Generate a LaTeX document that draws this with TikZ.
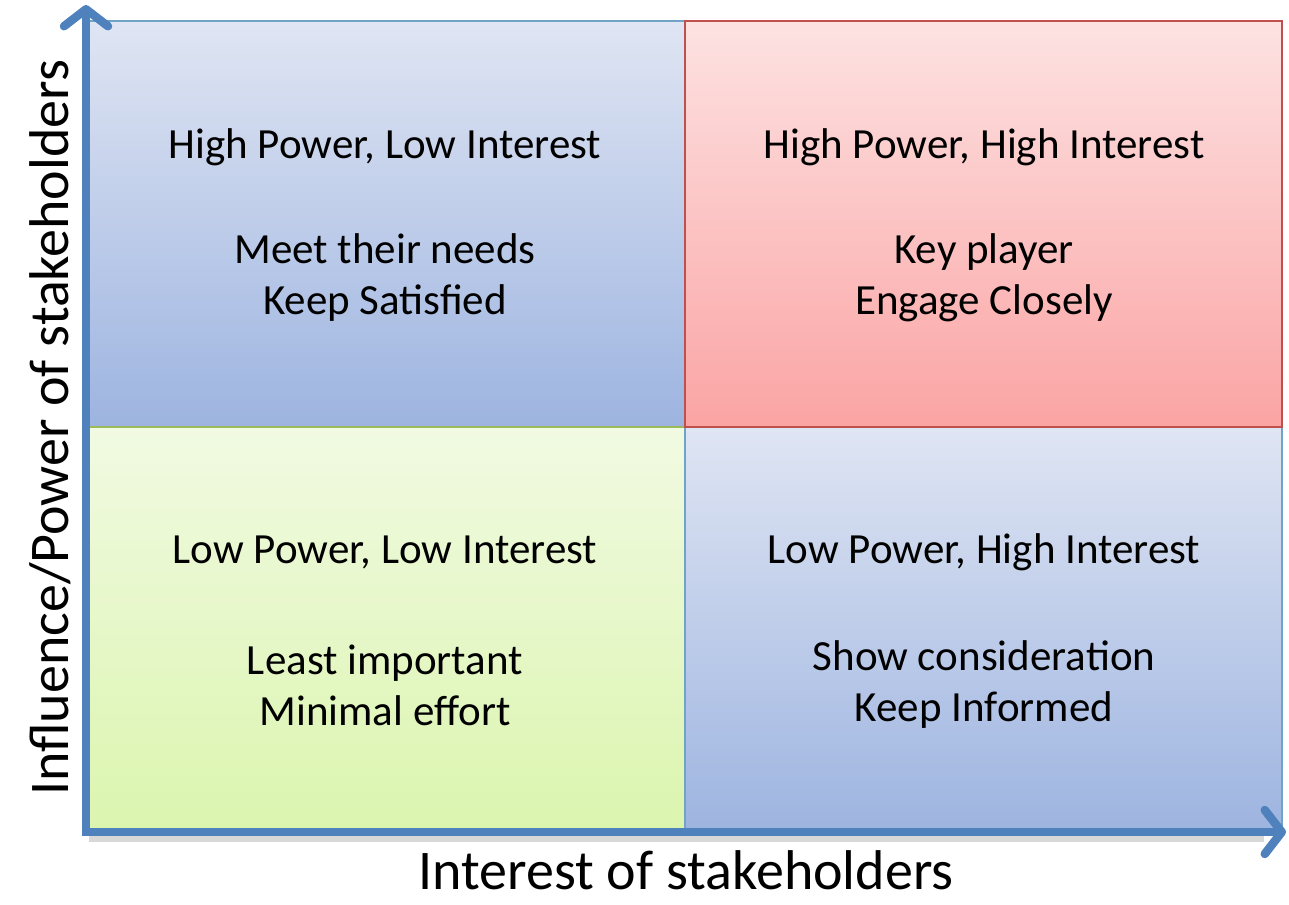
\documentclass[tikz,border=0pt]{standalone}
\usepackage{fontspec}
\setmainfont{Carlito}
\usetikzlibrary{arrows.meta}
\definecolor{axisblue}{HTML}{4F81BD}
\definecolor{blueedge}{HTML}{6FA3C8}
\definecolor{rededge}{HTML}{C0504D}
\definecolor{greenedge}{HTML}{9BBB59}
\definecolor{bluetop}{HTML}{DFE5F3}
\definecolor{bluebot}{HTML}{9DB4E0}
\definecolor{redtop}{HTML}{FDE2E2}
\definecolor{redbot}{HTML}{FBA4A4}
\definecolor{greentop}{HTML}{F1FAE2}
\definecolor{greenbot}{HTML}{DBF5AE}
\begin{document}
\begin{tikzpicture}[x=1pt, y=-1pt,
    quad/.style={draw, line width=1.2pt, minimum width=597pt, minimum height=406pt,
      anchor=north west, inner sep=0pt, outer sep=0pt},
    bluequad/.style={quad, draw=blueedge, top color=bluetop, bottom color=bluebot},
    txt/.style={font=\fontsize{43}{51}\selectfont, align=center},
    axlabel/.style={font=\fontsize{56}{60}\selectfont, inner sep=0pt},
    axis/.style={draw=axisblue, line width=8.5pt, line join=miter,
      {Straight Barb[length=17pt,width=44pt,round]}-{Straight Barb[length=17pt,width=44pt,round]}}]
  \useasboundingbox (0,0) rectangle (1289,904);
  % quadrants
  \node[bluequad] (tl) at (88,21) {};
  \node[quad, draw=greenedge, top color=greentop, bottom color=greenbot] (bl) at (88,427) {};
  \node[bluequad] (br) at (685,427) {};
  \node[quad, draw=rededge, top color=redtop, bottom color=redbot] (tr) at (685,21) {};
  % texts
  \node[txt] (tlhead) at (385,147) {High Power, Low Interest};
  \node[txt] (tlbody) at (385,278) {Meet their needs\\Keep Satisfied};
  \node[txt] (trhead) at (984,147) {High Power, High Interest};
  \node[txt] (trbody) at (984,278) {Key player\\Engage Closely};
  \node[txt] (blhead) at (385,552) {Low Power, Low Interest};
  \node[txt] (blbody) at (385,685) {Least important\\Minimal effort};
  \node[txt] (brhead) at (984,552) {Low Power, High Interest};
  \node[txt] (brbody) at (984,685) {Show consideration\\Keep Informed};
  % axes
  \coordinate (origin) at (86,832);
  \coordinate (ytip) at (86,5);
  \coordinate (xtip) at (1286,832);
  \draw[line width=8pt, black!30, opacity=0.5] ([shift={(3,6)}]origin) -- ([shift={(-22,6)}]xtip);
  \draw[axis] (ytip) -- (origin) -- (xtip);
  \node[axlabel, rotate=90] (ylabel) at (50,428) {Influence/Power of stakeholders};
  \node[axlabel, anchor=base] (xlabel) at (686,889) {Interest of stakeholders};
\end{tikzpicture}
\end{document}
